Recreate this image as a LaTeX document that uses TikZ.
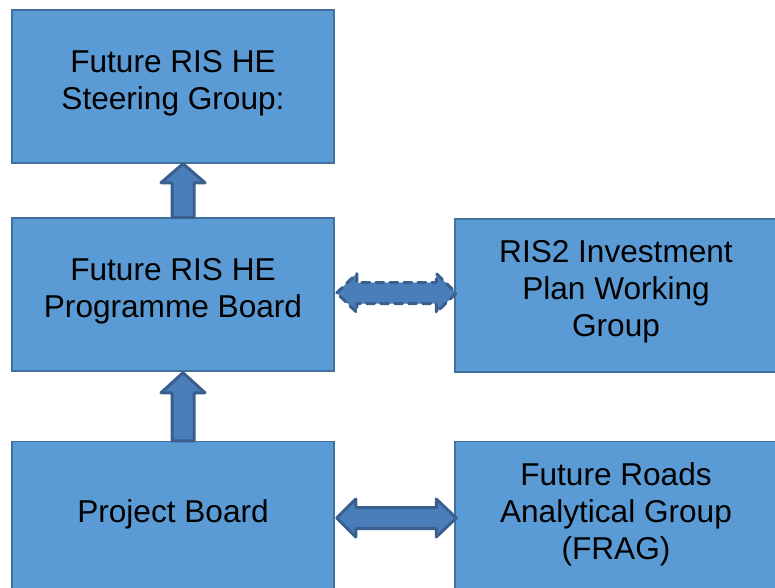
\documentclass[tikz,border=0pt]{standalone}
\usepackage{fontspec}
\setmainfont{Liberation Sans}
\usetikzlibrary{calc}
\definecolor{boxfill}{HTML}{5B9BD5}
\definecolor{boxline}{HTML}{41719C}
\definecolor{arrfill}{HTML}{4A7EBB}
\definecolor{arrline}{HTML}{3A5F8E}
\tikzset{
  unit/.style={draw=boxline, fill=boxfill, line width=1.5pt, minimum width=322pt,
    minimum height=153pt, inner sep=0pt, align=center, text depth=14pt,
    font=\fontsize{31.6}{37}\selectfont, text=black},
  fatarrow/.style={draw=arrline, fill=arrfill, line width=3pt, line join=round},
  dasharrow/.style={fatarrow, dash pattern=on 8pt off 6pt, line cap=round}
}
\begin{document}
\begin{tikzpicture}[x=1pt, y=-1pt]
  \useasboundingbox (0,0) rectangle (775,587);
  \clip (0,0) rectangle (775,587);

  % organisation units
  \node[unit] (steer) at (173,86.5) {Future RIS HE\\Steering Group:};
  \node[unit] (prog)  at (173,294.5) {Future RIS HE\\Programme Board};
  \node[unit] (proj)  at (173,518) {Project Board};
  \node[unit] (ris2)  at (616,295.5) {RIS2 Investment\\Plan Working\\Group};
  \node[unit] (frag)  at (616,518) {Future Roads\\Analytical Group\\(FRAG)};

  % reporting arrows (pointing up)
  \draw[fatarrow]
    ($(prog.north)+(-1,0)$) -- ($(steer.south)+(-1,19)$) -- ($(steer.south)+(-12,19)$)
    -- ($(steer.south)+(10,0)$)
    -- ($(steer.south)+(32,19)$) -- ($(steer.south)+(21,19)$) -- ($(prog.north)+(21,0)$) -- cycle;
  \draw[fatarrow]
    ($(proj.north)+(-1,0)$) -- ($(prog.south)+(-1,21)$) -- ($(prog.south)+(-12,21)$)
    -- ($(prog.south)+(10,1)$)
    -- ($(prog.south)+(32,21)$) -- ($(prog.south)+(21,21)$) -- ($(proj.north)+(21,0)$) -- cycle;

  % two-way links
  \coordinate (a) at ($(prog.east)+(2,-1.5)$);
  \coordinate (b) at ($(ris2.west)+(2,-2.5)$);
  \draw[dasharrow]
    (a) -- ($(a)+(20,-19.5)$) -- ($(a)+(20,-10.5)$) -- ($(b)+(-20,-10.5)$)
    -- ($(b)+(-20,-19.5)$) -- (b) -- ($(b)+(-20,19.5)$) -- ($(b)+(-20,10.5)$)
    -- ($(a)+(20,10.5)$) -- ($(a)+(20,19.5)$) -- cycle;

  \coordinate (c) at ($(proj.east)+(2,0)$);
  \coordinate (d) at ($(frag.west)+(2,0)$);
  \draw[fatarrow]
    (c) -- ($(c)+(19,-19)$) -- ($(c)+(19,-10.5)$) -- ($(d)+(-20,-10.5)$)
    -- ($(d)+(-20,-19)$) -- (d) -- ($(d)+(-20,19)$) -- ($(d)+(-20,10.5)$)
    -- ($(c)+(19,10.5)$) -- ($(c)+(19,19)$) -- cycle;
\end{tikzpicture}
\end{document}
